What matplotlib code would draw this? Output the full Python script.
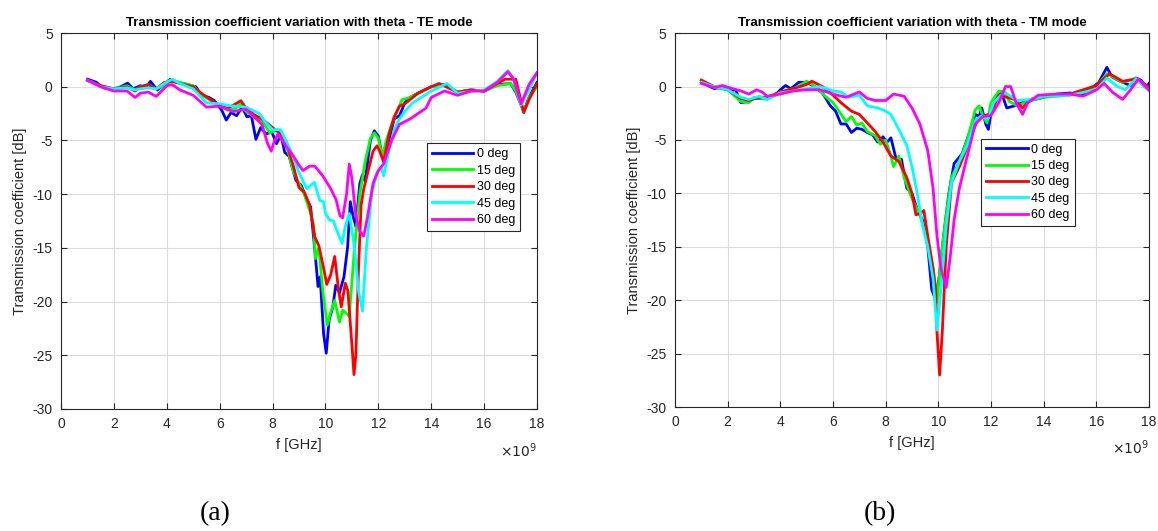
import numpy as np
import matplotlib.pyplot as plt
from matplotlib.ticker import FuncFormatter

plt.rcParams['font.family'] = ['Liberation Sans', 'DejaVu Sans']
plt.rcParams['axes.unicode_minus'] = False

labels = ['0 deg', '15 deg', '30 deg', '45 deg', '60 deg']
colors = ['#0000ff', '#00ff00', '#ff0000', '#00ffff', '#ff00ff']

# TE mode, frequency in GHz / transmission in dB
te_f0 = [1.0, 1.33, 1.61, 1.89, 2.17, 2.52, 2.73, 3.0, 3.2, 3.38, 3.64, 3.92, 4.13, 4.4, 4.69, 5.1, 5.31, 5.6, 5.8,
         6.08, 6.25, 6.43, 6.64, 6.85, 7.03, 7.2, 7.37, 7.55, 7.76, 7.97, 8.15, 8.32, 8.46, 8.63, 8.88, 9.09, 9.3,
         9.44, 9.61, 9.72, 9.8, 9.93, 10.03, 10.14, 10.28, 10.39, 10.53, 10.7, 10.84, 10.94, 11.05, 11.15, 11.3,
         11.4, 11.5, 11.7, 11.85, 12.0, 12.15, 12.25, 12.4, 12.6, 12.8, 13.0, 13.2, 13.5, 14.0, 14.5, 15.0, 15.5,
         16.0, 16.5, 17.0, 17.2, 17.5, 17.7, 18.0]
te_y0 = [0.7, 0.42, -0.1, -0.2, -0.1, 0.33, -0.2, 0.1, -0.1, 0.5, -0.3, 0.25, 0.7, 0.4, 0.25, 0.0, -0.8, -1.0, -1.3,
         -2.2, -3.1, -2.4, -2.7, -1.9, -2.8, -2.7, -4.9, -3.8, -4.4, -4.2, -5.3, -4.5, -6.1, -6.5, -8.7, -9.2, -10.6,
         -11.2, -15.5, -18.6, -17.7, -23.0, -24.8, -21.7, -20.5, -18.5, -19.2, -17.7, -14.9, -10.7, -12.1, -13.0, -9.0,
         -8.2, -8.8, -5.0, -4.1, -4.6, -6.5, -7.0, -5.0, -3.0, -2.7, -1.5, -1.0, -0.6, 0.0, 0.2, -0.5, -0.3,
         -0.4, 0.2, 0.3, -0.5, -2.3, -1.0, 0.4]

te_f15 = [1.0, 1.5, 2.0, 2.5, 2.8, 3.0, 3.3, 3.6, 4.0, 4.2, 4.5, 5.0, 5.3, 5.6, 6.0, 6.3, 6.6, 6.8, 7.0, 7.3, 7.6,
          7.9, 8.2, 8.5, 8.8, 9.0, 9.2, 9.4, 9.55, 9.62, 9.75, 9.9, 10.07, 10.2, 10.35, 10.53, 10.65, 10.84, 10.9,
          11.1, 11.3, 11.5, 11.7, 11.85, 12.0, 12.15, 12.3, 12.5, 12.9, 13.2, 14.0, 14.5, 15.0, 15.5, 16.0, 16.5,
          17.0, 17.2, 17.5, 17.7, 18.0]
te_y15 = [0.6, 0.1, -0.2, 0.1, -0.3, 0.0, 0.2, -0.2, 0.2, 0.6, 0.4, 0.1, -0.7, -1.2, -1.8, -2.2, -2.0, -1.6, -2.3,
          -2.8, -3.2, -4.3, -4.0, -5.2, -8.0, -9.0, -10.0, -11.5, -12.8, -16.0, -15.0, -19.0, -22.2, -21.0, -19.9,
          -21.9, -20.8, -21.2, -21.4, -15.0, -10.0, -7.0, -4.8, -4.3, -4.8, -6.5, -5.0, -3.5, -1.2, -1.0, 0.0, 0.1,
          -0.5, -0.3, -0.4, 0.1, 0.3, -0.4, -2.4, -1.0, 0.0]

te_f30 = [1.0, 1.5, 2.0, 2.5, 2.8, 3.0, 3.3, 3.6, 3.9, 4.2, 4.5, 5.0, 5.3, 5.6, 6.0, 6.3, 6.6, 6.8, 7.0, 7.3, 7.6,
          7.9, 8.2, 8.5, 8.8, 9.0, 9.2, 9.4, 9.6, 9.75, 9.9, 10.05, 10.2, 10.35, 10.5, 10.6, 10.75, 10.85, 11.0,
          11.08, 11.15, 11.25, 11.35, 11.45, 11.6, 11.8, 11.95, 12.05, 12.2, 12.4, 12.6, 12.8, 13.0, 13.5, 14.0,
          14.3, 15.0, 15.5, 16.0, 16.5, 16.8, 17.2, 17.5, 17.7, 18.0]
te_y30 = [0.6, 0.1, -0.2, 0.0, -0.4, 0.0, 0.2, -0.2, 0.4, 0.5, 0.3, 0.0, -0.6, -1.1, -1.8, -2.0, -1.6, -1.3, -2.0,
          -2.6, -3.0, -3.6, -4.2, -5.0, -7.5, -9.4, -9.8, -11.0, -14.0, -14.8, -16.5, -18.4, -17.5, -15.8, -19.0,
          -20.5, -18.3, -19.0, -24.0, -26.8, -25.0, -17.0, -11.0, -9.5, -8.0, -6.0, -5.5, -6.0, -7.0, -4.5, -2.8,
          -1.8, -1.6, -0.6, 0.0, 0.3, -0.5, -0.3, -0.4, 0.3, 0.7, 0.7, -2.4, -1.2, 0.3]

te_f45 = [1.0, 1.5, 2.0, 2.5, 2.8, 3.0, 3.3, 3.6, 3.9, 4.2, 4.5, 5.0, 5.5, 6.0, 6.5, 7.0, 7.5, 7.7, 8.0, 8.3, 8.7,
          9.0, 9.3, 9.58, 9.79, 9.93, 10.0, 10.15, 10.3, 10.45, 10.63, 10.75, 10.9, 11.1, 11.25, 11.4, 11.55, 11.75,
          11.95, 12.1, 12.2, 12.4, 12.6, 12.8, 13.0, 13.3, 14.0, 14.6, 15.0, 16.0, 16.5, 16.9, 17.1, 17.4, 17.7, 18.0]
te_y45 = [0.6, 0.0, -0.2, -0.1, -0.3, -0.2, -0.1, -0.2, 0.3, 0.7, 0.3, -0.2, -1.5, -1.6, -1.8, -1.9, -2.5, -3.2,
          -4.0, -4.0, -6.0, -8.0, -9.5, -8.9, -10.6, -10.7, -11.8, -12.4, -12.5, -13.5, -14.6, -13.0, -11.8, -15.0,
          -19.0, -20.9, -15.0, -10.0, -8.0, -7.5, -8.3, -6.0, -4.0, -3.0, -2.3, -1.5, -0.4, 0.3, -0.6, -0.3, 0.5,
          1.5, 0.8, -1.7, -0.3, 1.3]

te_f60 = [1.0, 1.5, 2.0, 2.5, 2.8, 3.0, 3.3, 3.6, 4.0, 4.2, 4.5, 5.0, 5.5, 6.0, 6.5, 7.0, 7.3, 7.6, 7.8, 7.95, 8.05,
          8.2, 8.5, 8.8, 9.0, 9.15, 9.4, 9.6, 9.9, 10.2, 10.4, 10.55, 10.65, 10.8, 10.9, 11.0, 11.15, 11.3, 11.45,
          11.6, 11.8, 12.0, 12.2, 12.5, 12.8, 13.2, 13.5, 13.8, 14.0, 14.5, 15.0, 15.5, 16.0, 16.5, 16.9, 17.1, 17.4,
          17.7, 18.0]
te_y60 = [0.6, 0.0, -0.4, -0.4, -1.0, -0.6, -0.5, -0.9, 0.1, 0.2, -0.3, -0.8, -1.9, -1.8, -2.3, -2.1, -2.8, -3.5,
          -5.2, -6.0, -5.2, -4.4, -5.5, -6.5, -7.3, -7.8, -7.4, -7.4, -8.3, -9.5, -10.5, -12.0, -12.2, -10.0, -7.2,
          -8.5, -12.0, -13.5, -13.9, -12.0, -9.0, -7.8, -7.2, -5.0, -3.5, -3.0, -2.5, -2.0, -1.0, -0.4, -0.8, -0.4,
          -0.4, 0.4, 1.4, 0.8, -1.6, 0.2, 1.3]

# TM mode
tm_f0 = [1.0, 1.5, 1.8, 2.1, 2.3, 2.5, 2.8, 3.0, 3.5, 3.8, 4.0, 4.2, 4.4, 4.7, 5.0, 5.3, 5.6, 5.9, 6.1, 6.3, 6.5,
         6.7, 6.9, 7.1, 7.3, 7.5, 7.7, 7.9, 8.05, 8.2, 8.4, 8.6, 8.8, 9.0, 9.2, 9.4, 9.6, 9.75, 9.9, 10.05, 10.2,
         10.4, 10.6, 10.9, 11.2, 11.4, 11.55, 11.65, 11.8, 11.9, 12.0, 12.2, 12.4, 12.6, 12.9, 13.2, 13.5, 14.0,
         14.5, 15.0, 15.5, 15.8, 16.1, 16.4, 16.6, 16.9, 17.1, 17.3, 17.5, 17.7, 17.9, 18.0]
tm_y0 = [0.4, -0.2, 0.0, -0.4, -0.3, -1.5, -1.4, -1.1, -1.1, -0.8, -0.3, 0.1, -0.2, 0.4, 0.4, 0.0, -0.6, -1.8, -2.3,
         -3.5, -3.5, -4.3, -3.9, -4.0, -4.3, -4.5, -5.2, -4.7, -5.2, -4.8, -6.8, -6.8, -9.5, -10.0, -11.5, -12.5,
         -15.0, -19.0, -20.0, -17.5, -14.0, -10.0, -7.2, -6.3, -4.2, -2.6, -2.8, -2.0, -3.5, -4.0, -2.5, -1.0, -0.6,
         -2.0, -1.8, -1.5, -1.3, -1.0, -0.7, -0.6, -0.8, -0.2, 0.4, 1.8, 0.9, 0.5, 0.3, 0.1, 0.8, 0.6, -0.1, 0.3]

tm_f15 = [1.0, 1.5, 2.0, 2.5, 2.8, 3.0, 3.5, 4.0, 4.5, 5.0, 5.4, 5.7, 6.0, 6.2, 6.5, 6.7, 6.9, 7.1, 7.3, 7.6, 7.8,
          8.0, 8.2, 8.3, 8.5, 8.7, 9.0, 9.3, 9.6, 9.8, 9.95, 10.1, 10.3, 10.5, 10.8, 11.1, 11.4, 11.55, 11.7, 11.85,
          12.0, 12.3, 12.5, 12.7, 13.0, 13.5, 14.0, 15.0, 16.0, 16.4, 17.0, 17.5, 18.0]
tm_y15 = [0.6, -0.1, -0.3, -1.4, -1.5, -1.0, -1.2, -0.5, -0.2, 0.5, -0.1, -0.9, -1.5, -2.2, -3.3, -2.8, -3.6, -3.4,
          -4.2, -4.6, -5.4, -5.0, -6.5, -7.5, -6.5, -8.5, -10.5, -12.0, -14.5, -17.0, -20.2, -16.0, -12.0, -8.5,
          -7.0, -5.0, -2.2, -1.8, -2.8, -3.4, -1.5, -0.4, -0.5, -1.4, -1.8, -1.3, -1.0, -0.8, 0.0, 1.2, 0.4, 0.8,
          -0.2]

tm_f30 = [1.0, 1.5, 2.0, 2.5, 2.8, 3.2, 3.5, 4.0, 4.5, 5.0, 5.2, 5.6, 6.0, 6.3, 6.7, 7.0, 7.3, 7.6, 7.9, 8.2, 8.5,
          8.8, 9.0, 9.15, 9.3, 9.45, 9.6, 9.8, 9.9, 9.95, 10.05, 10.15, 10.3, 10.5, 10.8, 11.2, 11.5, 12.0, 12.3,
          12.6, 12.9, 13.2, 13.5, 14.0, 15.0, 16.0, 16.5, 17.0, 17.5, 18.0]
tm_y30 = [0.6, 0.0, -0.3, -1.1, -1.3, -1.0, -1.0, -0.5, -0.2, 0.2, 0.5, 0.0, -0.8, -1.5, -2.3, -2.6, -3.4, -4.2,
          -5.2, -6.5, -7.0, -8.5, -10.0, -12.0, -11.9, -11.6, -14.0, -17.0, -19.0, -23.0, -27.0, -23.0, -15.0, -9.0,
          -7.5, -5.0, -3.0, -2.5, -0.8, -1.0, -1.2, -2.0, -1.2, -0.9, -0.7, 0.1, 1.2, 0.5, 0.7, 0.0]

tm_f45 = [1.0, 1.5, 2.0, 2.5, 2.8, 3.2, 3.5, 4.0, 4.5, 5.0, 5.5, 6.0, 6.3, 6.6, 7.0, 7.3, 7.7, 8.0, 8.2, 8.5, 8.8,
          9.0, 9.2, 9.4, 9.6, 9.8, 9.95, 10.1, 10.3, 10.5, 10.8, 11.1, 11.4, 11.6, 11.9, 12.1, 12.5, 13.0, 13.5,
          14.0, 15.0, 16.0, 16.4, 16.8, 17.1, 17.5, 18.0]
tm_y45 = [0.4, 0.0, -0.3, -1.0, -1.2, -0.9, -1.2, -0.6, -0.4, -0.2, 0.0, -0.4, -0.5, -1.0, -0.8, -1.8, -2.0, -2.3,
          -2.6, -4.0, -5.5, -7.5, -10.0, -13.0, -15.0, -18.0, -22.8, -19.0, -13.0, -9.0, -7.0, -5.5, -3.2, -2.8,
          -3.0, -1.5, -0.5, -1.3, -1.2, -0.9, -0.8, -0.3, 0.8, 0.0, -0.3, 0.7, -0.4]

tm_f60 = [1.0, 1.5, 1.8, 2.2, 2.5, 2.8, 3.1, 3.3, 3.5, 4.0, 4.5, 5.0, 5.5, 6.0, 6.5, 7.0, 7.3, 7.6, 8.0, 8.3, 8.7,
          9.0, 9.3, 9.6, 9.8, 9.95, 10.1, 10.3, 10.45, 10.6, 10.8, 11.1, 11.4, 11.7, 12.0, 12.3, 12.55, 12.75, 12.95,
          13.2, 13.4, 13.8, 14.5, 15.0, 15.5, 16.0, 16.3, 16.6, 17.0, 17.3, 17.6, 18.0]
tm_y60 = [0.3, -0.1, 0.1, -0.2, -0.4, -0.7, -0.3, -0.5, -0.9, -0.7, -0.4, -0.3, -0.3, -0.7, -1.0, -0.5, -1.1, -1.3,
          -1.3, -0.7, -0.9, -2.0, -3.5, -6.0, -9.5, -14.0, -17.0, -18.8, -16.0, -12.5, -9.5, -6.5, -3.5, -2.8, -2.7,
          -1.5, 0.0, 0.0, -1.5, -2.6, -1.5, -0.8, -0.7, -0.7, -0.9, -0.3, 0.3, -0.5, -1.2, -0.3, 0.7, -0.3]

te_data = [(te_f0, te_y0), (te_f15, te_y15), (te_f30, te_y30), (te_f45, te_y45), (te_f60, te_y60)]
tm_data = [(tm_f0, tm_y0), (tm_f15, tm_y15), (tm_f30, tm_y30), (tm_f45, tm_y45), (tm_f60, tm_y60)]

fig = plt.figure(figsize=(11.58, 5.31), dpi=100)
ax1 = fig.add_axes([0.0527, 0.2298, 0.411, 0.708])
ax2 = fig.add_axes([0.5829, 0.2335, 0.4093, 0.704])

dark = '#262626'


def draw_panel(ax, data, title, leg_anchor):
    for (f, y), c, lab in zip(data, colors, labels):
        ax.plot(np.array(f) * 1e9, y, color=c, lw=2.0, label=lab)
    ax.set_xlim(0, 18e9)
    ax.set_ylim(-30, 5)
    ax.set_xticks(np.arange(0, 19, 2) * 1e9)
    ax.set_yticks(np.arange(-30, 6, 5))
    ax.xaxis.set_major_formatter(FuncFormatter(lambda v, p: '%d' % round(v / 1e9)))
    ax.grid(True, color='#dcdcdc', lw=0.8)
    ax.set_axisbelow(True)
    ax.tick_params(direction='in', top=True, right=True, labelsize=10, colors=dark, length=4, pad=6)
    for s in ax.spines.values():
        s.set_color(dark)
        s.set_linewidth(0.8)
    ax.set_title(title, fontsize=9.5, fontweight='bold', pad=5)
    ax.set_xlabel('f [GHz]', fontsize=10.5, color=dark, labelpad=5)
    ax.set_ylabel('Transmission coefficient [dB]', fontsize=10.5, color=dark)
    # MATLAB-style exponent below the right end of the x axis
    ax.text(1.0, -0.11, r'$\times10^{9}$', transform=ax.transAxes, ha='right', va='center',
            fontsize=10, color=dark)
    leg = ax.legend(loc='upper left', bbox_to_anchor=leg_anchor, fontsize=9, handlelength=3.3,
                    fancybox=False, edgecolor=dark, framealpha=1, borderpad=0.4, labelspacing=0.35,
                    handletextpad=0.3)
    leg.get_frame().set_linewidth(0.8)


draw_panel(ax1, te_data, 'Transmission coefficient variation with theta - TE mode', (0.756, 0.723))
draw_panel(ax2, tm_data, 'Transmission coefficient variation with theta - TM mode', (0.633, 0.735))

fig.text(215 / 1158, 1 - 514 / 531, '(a)', fontsize=20, family='Liberation Serif', ha='center', va='center')
fig.text(880 / 1158, 1 - 514 / 531, '(b)', fontsize=20, family='Liberation Serif', ha='center', va='center')

fig.savefig('out.png', dpi=100)
